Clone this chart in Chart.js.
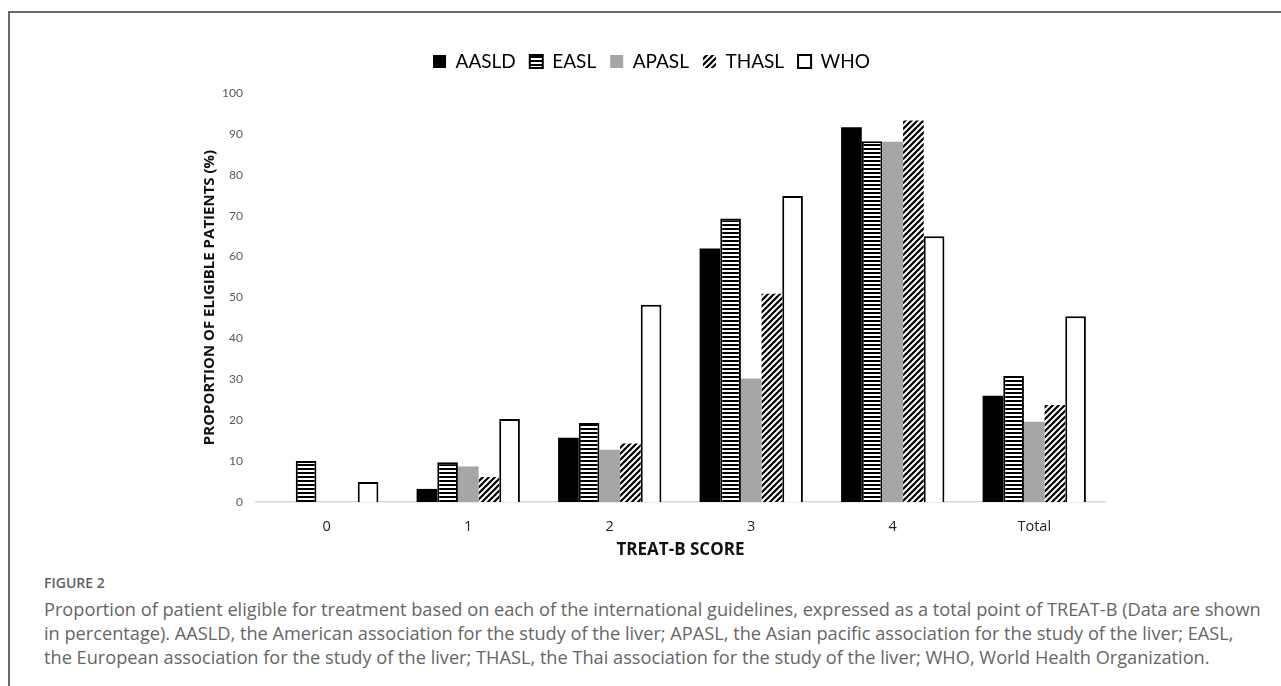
<!DOCTYPE html>
<html>
<head>
<meta charset="utf-8">
<script src="https://cdn.jsdelivr.net/npm/chart.js@4.4.1/dist/chart.umd.min.js"></script>
<style>
  html, body { margin: 0; padding: 0; background: #fff; }
  body { width: 1281px; height: 686px; position: relative; overflow: hidden; }
  .frame {
    position: absolute; left: 8px; top: 11px; right: -4px; bottom: -4px;
    border-left: 2px solid #6b6b6b; border-top: 2px solid #6b6b6b;
  }
  #wrap { position: absolute; left: 0; top: 0; width: 1281px; height: 563px; }
  .caption {
    position: absolute; left: 44px; top: 573px; width: 1235px;
    font-family: "Open Sans", sans-serif; color: #666;
  }
  .caption .fig { font-size: 14px; font-weight: 600; color: #5f5f5f; line-height: 20px; }
  .caption .txt { font-size: 18.2px; line-height: 24px; margin-top: 4px; white-space: nowrap; }
</style>
</head>
<body>
<div class="frame"></div>
<div id="wrap"><canvas id="chart"></canvas></div>
<div class="caption">
  <div class="fig">FIGURE 2</div>
  <div class="txt">Proportion of patient eligible for treatment based on each of the international guidelines, expressed as a total point of TREAT-B (Data are shown<br>in percentage). AASLD, the American association for the study of the liver; APASL, the Asian pacific association for the study of the liver; EASL,<br>the European association for the study of the liver; THASL, the Thai association for the study of the liver; WHO, World Health Organization.</div>
</div>

<script>
// --- data ---
const scores = ["0", "1", "2", "3", "4", "Total"];

const aasld = [0, 3.2, 15.7, 62.0, 91.6, 26.0];
const easl  = [10.0, 9.7, 19.3, 69.3, 88.2, 30.8];
const apasl = [0, 8.7, 12.8, 30.2, 88.1, 19.6];
const thasl = [0, 6.1, 14.3, 50.9, 93.3, 23.7];
const who   = [4.9, 20.3, 48.2, 74.8, 65.0, 45.4];

const yTicks = [0, 10, 20, 30, 40, 50, 60, 70, 80, 90, 100];

// --- fill patterns ---
function hStripes() {
  const c = document.createElement("canvas");
  c.width = 4; c.height = 4;
  const g = c.getContext("2d");
  g.fillStyle = "#fff";
  g.fillRect(0, 0, 4, 4);
  g.fillStyle = "#000";
  g.fillRect(0, 0, 4, 2);
  return g.createPattern(c, "repeat");
}

function diagStripes() {
  const s = 6;
  const c = document.createElement("canvas");
  c.width = s; c.height = s;
  const g = c.getContext("2d");
  g.fillStyle = "#fff";
  g.fillRect(0, 0, s, s);
  g.strokeStyle = "#000";
  g.lineWidth = 2.2;
  g.beginPath();
  g.moveTo(-1, s + 1); g.lineTo(s + 1, -1);
  g.moveTo(-s / 2 - 1, s / 2 + 1); g.lineTo(s / 2 + 1, -s / 2 - 1);
  g.moveTo(s / 2 - 1, s * 1.5 + 1); g.lineTo(s * 1.5 + 1, s / 2 - 1);
  g.stroke();
  return g.createPattern(c, "repeat");
}

const stripeFill = hStripes();
const diagFill   = diagStripes();

const FONT  = "Lato, 'Open Sans', sans-serif";
const FONT2 = "'Open Sans', Lato, sans-serif";

// adds some room under the legend
const legendSpace = {
  id: "legendSpace",
  beforeInit(chart) {
    const fit = chart.legend.fit;
    chart.legend.fit = function () {
      fit.call(this);
      this.height += 12;
    };
  }
};

new Chart(document.getElementById("chart"), {
  type: "bar",
  data: {
    labels: scores,
    datasets: [
      { label: "AASLD", data: aasld, backgroundColor: "#000", borderWidth: 0 },
      { label: "EASL",  data: easl,  backgroundColor: stripeFill, borderColor: "#000", borderWidth: 2 },
      { label: "APASL", data: apasl, backgroundColor: "#a6a6a6", borderWidth: 0 },
      { label: "THASL", data: thasl, backgroundColor: diagFill, borderWidth: 0 },
      { label: "WHO",   data: who,   backgroundColor: "#fff", borderColor: "#000", borderWidth: 2 }
    ]
  },
  plugins: [legendSpace],
  options: {
    responsive: true,
    maintainAspectRatio: false,
    animation: false,
    datasets: {
      bar: { categoryPercentage: 0.73, barPercentage: 1.0, borderSkipped: "bottom" }
    },
    layout: { padding: { top: 38, left: 198, right: 176, bottom: 0 } },
    scales: {
      x: {
        grid: { display: false, drawTicks: false },
        border: { display: true, color: "#d9d9d9", width: 1.5 },
        ticks: { color: "#222", padding: 16, font: { family: FONT2, size: 14.5 } },
        title: {
          display: true, text: "TREAT-B SCORE", color: "#111",
          font: { family: FONT2, size: 17, weight: "bold" }, padding: { top: 4, bottom: 3 }
        },
        afterFit(scale) { scale.height = 61; }
      },
      y: {
        min: 0, max: 100,
        grid: { display: false, drawTicks: false },
        border: { display: false },
        afterBuildTicks(scale) { scale.ticks = yTicks.map(v => ({ value: v })); },
        ticks: { color: "#595959", padding: 13, font: { family: FONT, size: 12 } },
        title: {
          display: true, text: "PROPORTION OF ELIGIBLE PATIENTS (%)", color: "#111",
          font: { family: FONT2, size: 15, weight: "bold" }, padding: { top: 3, bottom: 4 }
        },
        afterFit(scale) { scale.width = 58; }
      }
    },
    plugins: {
      legend: {
        position: "top",
        labels: {
          color: "#1a1a1a",
          boxWidth: 13,
          boxHeight: 13,
          padding: 14,
          font: { family: FONT, size: 19 },
          generateLabels(chart) {
            return chart.data.datasets.map((ds, i) => ({
              text: ds.label,
              fillStyle: ds.backgroundColor,
              strokeStyle: "#000",
              lineWidth: ds.borderWidth ? 2 : 0,
              datasetIndex: i,
              hidden: false
            }));
          }
        }
      },
      tooltip: { enabled: false }
    }
  }
});
</script>
</body>
</html>
